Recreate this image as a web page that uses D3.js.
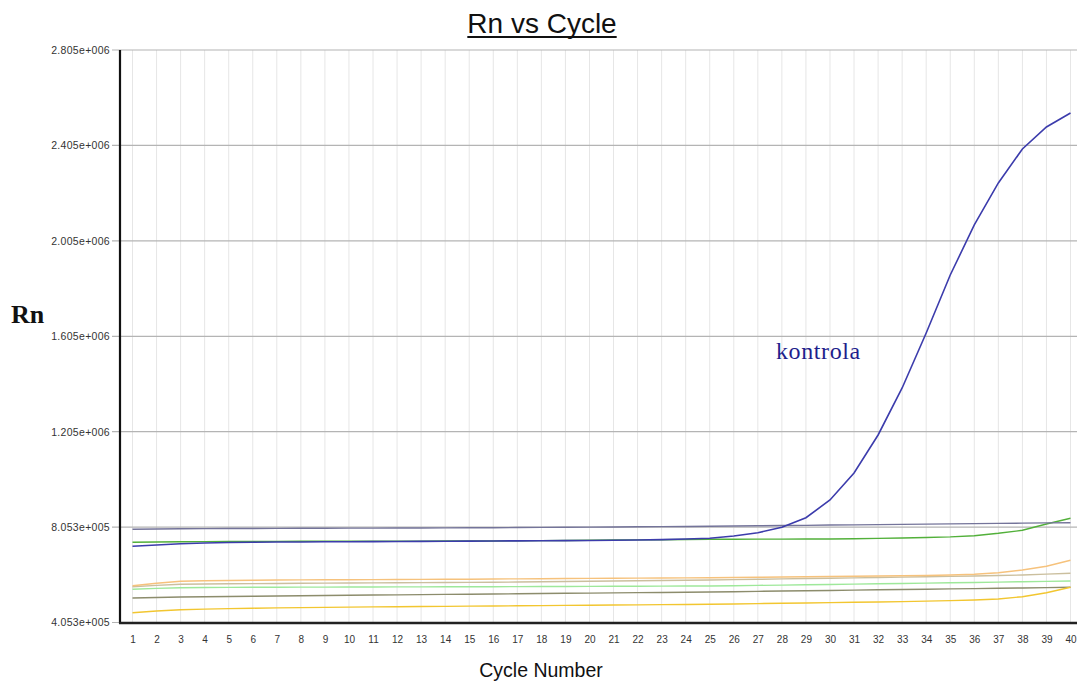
<!DOCTYPE html>
<html><head><meta charset="utf-8">
<script src="https://cdn.jsdelivr.net/npm/d3@7"></script>
<style>body{margin:0;background:#fff}svg{display:block}</style>
</head><body>
<svg id="c" width="1077" height="682"></svg>
<script>
const cycles = d3.range(1, 41);
const yTicks = [405300, 805300, 1205000, 1605000, 2005000, 2405000, 2805000];
const yTickLabels = ["4.053e+005","8.053e+005","1.205e+006","1.605e+006","2.005e+006","2.405e+006","2.805e+006"];

const kontrola = [724700,730200,735600,738600,740700,741900,742800,743000,743500,744000,744500,745000,745500,746000,746500,747000,747500,748000,748600,749300,750200,751300,752800,755300,758300,767900,781700,804400,844600,918800,1032000,1191300,1388300,1618900,1862000,2071600,2247700,2390200,2482400,2541100];
const slate = [796000,797300,798500,798900,799200,799500,799800,800100,800400,800700,801000,801300,801700,802000,802300,802700,803300,804000,804600,805200,805900,806600,807300,808000,808600,809600,810600,811600,812600,813700,814700,815700,816700,817700,818700,819700,820700,821700,822700,823700];
const green = [741500,743000,744000,744400,744800,745100,745400,745600,745800,746000,746200,746400,746600,746700,746800,747000,747600,748400,749200,750000,750800,751600,752400,753300,754100,754400,754700,754900,755100,755300,756500,758000,759500,761500,764000,769200,779200,791800,818200,842100];
const orange = [559600,570000,578000,580000,581500,582500,583300,583900,584400,584800,585200,585600,586000,586400,586800,587700,588300,588900,589500,590100,590700,591300,591900,592500,593100,594000,595000,596000,597000,598000,599000,600000,601000,602500,604500,607400,614100,625400,640900,666000];
const tan = [555400,561000,565400,566800,567600,568300,569000,569600,570200,570800,571400,572000,572600,573000,573400,573800,574900,575900,577000,578100,579200,580300,581300,582400,583500,585000,586500,588000,589500,591000,592500,594000,595500,597000,598600,600200,602300,604400,608000,611500];
const lightGreen = [544500,548500,551200,551900,552400,552800,553100,553400,553700,554000,554300,554600,554800,555000,555200,555400,555700,556000,556400,556800,557100,557500,557800,558000,558300,559500,560800,562100,563400,564700,566000,567500,569000,570400,571800,573200,574700,576200,577700,579300];
const olive = [508000,510300,512200,513300,514300,515300,516300,517300,518300,519300,520300,521200,522100,523000,523900,524800,525700,526700,527600,528600,529500,530400,531300,532200,533200,534500,535800,537100,538400,539700,541000,542300,543600,544900,546200,547500,548800,550100,551500,552900];
const yellow = [446400,453500,459000,461500,463500,465200,466600,467800,468900,469900,470800,471600,472400,473100,473800,474500,475300,476100,476900,477700,478500,479300,480100,480900,481600,483000,484400,485800,487200,488600,490000,491500,493000,494700,497000,499600,503800,513500,530200,552900];

const seriesList = [
  {name:"olive", values: olive, color:"#8c8c6c"},
  {name:"yellow", values: yellow, color:"#f2c630"},
  {name:"lightGreen", values: lightGreen, color:"#9ee89a"},
  {name:"tan", values: tan, color:"#cbbf9e"},
  {name:"orange", values: orange, color:"#f6c27c"},
  {name:"green", values: green, color:"#52b03a"},
  {name:"slate", values: slate, color:"#74749a"},
  {name:"kontrola", values: kontrola, color:"#3c3cac"}
];

const svg = d3.select("#c");
const L = 120, T = 50, B = 622.5, R = 1077;
const x = d3.scaleLinear().domain([1, 40]).range([132.5, 1070.5]);
const y = d3.scaleLinear().domain([405300, 2805000]).range([B, T]);

svg.append("defs").append("clipPath").attr("id","clip")
  .append("rect").attr("x", L).attr("y", T - 2).attr("width", R - L).attr("height", B - T + 2);

// vertical grid
svg.append("g").selectAll("line").data(cycles).join("line")
  .attr("x1", d => x(d)).attr("x2", d => x(d)).attr("y1", T).attr("y2", B)
  .attr("stroke", "#e6e6e6").attr("stroke-width", 1);

// horizontal grid
svg.append("g").selectAll("line").data(yTicks).join("line")
  .attr("x1", L - 8).attr("x2", R).attr("y1", d => y(d)).attr("y2", d => y(d))
  .attr("stroke", "#b4b4b4").attr("stroke-width", 1.2);

// y axis labels
const yAxis = d3.axisLeft(y).tickValues(yTicks).tickSize(0).tickPadding(0)
  .tickFormat((d, i) => yTickLabels[i]);
const ya = svg.append("g").attr("transform", `translate(${L - 10},0)`).call(yAxis);
ya.select(".domain").remove();
ya.selectAll("text").attr("font-family", "Liberation Sans, Arial, sans-serif")
  .attr("font-size", 10.5).attr("letter-spacing", 0.3).attr("fill", "#333");

// x axis labels
const xAxis = d3.axisBottom(x).tickValues(cycles).tickSize(0).tickPadding(0).tickFormat(d3.format("d"));
const xa = svg.append("g").attr("transform", `translate(0,${B + 13})`).call(xAxis);
xa.select(".domain").remove();
xa.selectAll("text").attr("font-family", "Liberation Sans, Arial, sans-serif")
  .attr("font-size", 10).attr("fill", "#333");

// lines
const line = d3.line().x((d, i) => x(cycles[i])).y(d => y(d));
svg.append("g").attr("clip-path", "url(#clip)").selectAll("path").data(seriesList).join("path")
  .attr("d", d => line(d.values)).attr("fill", "none")
  .attr("stroke", d => d.color).attr("stroke-width", d => d.name === "kontrola" ? 1.6 : 1.4);

// axes frame
svg.append("line").attr("x1", L).attr("x2", L).attr("y1", T).attr("y2", B + 1)
  .attr("stroke", "#111").attr("stroke-width", 2.2);
svg.append("line").attr("x1", L - 1).attr("x2", R).attr("y1", B + 0.5).attr("y2", B + 0.5)
  .attr("stroke", "#222").attr("stroke-width", 2.6);

// title
const title = svg.append("text").attr("x", 542).attr("y", 33).attr("text-anchor", "middle")
  .attr("font-family", "Liberation Sans, Arial, sans-serif").attr("font-size", 28)
  .attr("fill", "#111").text("Rn vs Cycle");
const tb = title.node().getBBox();
svg.append("line").attr("x1", tb.x).attr("x2", tb.x + tb.width).attr("y1", 37).attr("y2", 37)
  .attr("stroke", "#111").attr("stroke-width", 2);

svg.append("text").attr("x", 11).attr("y", 323)
  .attr("font-family", "Liberation Serif, Times New Roman, serif").attr("font-weight", "bold")
  .attr("font-size", 26).attr("fill", "#111").text("Rn");

svg.append("text").attr("x", 541).attr("y", 677).attr("text-anchor", "middle")
  .attr("font-family", "Liberation Sans, Arial, sans-serif").attr("font-size", 19.5)
  .attr("fill", "#111").text("Cycle Number");

svg.append("text").attr("x", 776).attr("y", 359)
  .attr("font-family", "Liberation Serif, Times New Roman, serif")
  .attr("font-size", 24).attr("letter-spacing", 0.6).attr("fill", "#1e1e8c").text("kontrola");
</script>
</body></html>
